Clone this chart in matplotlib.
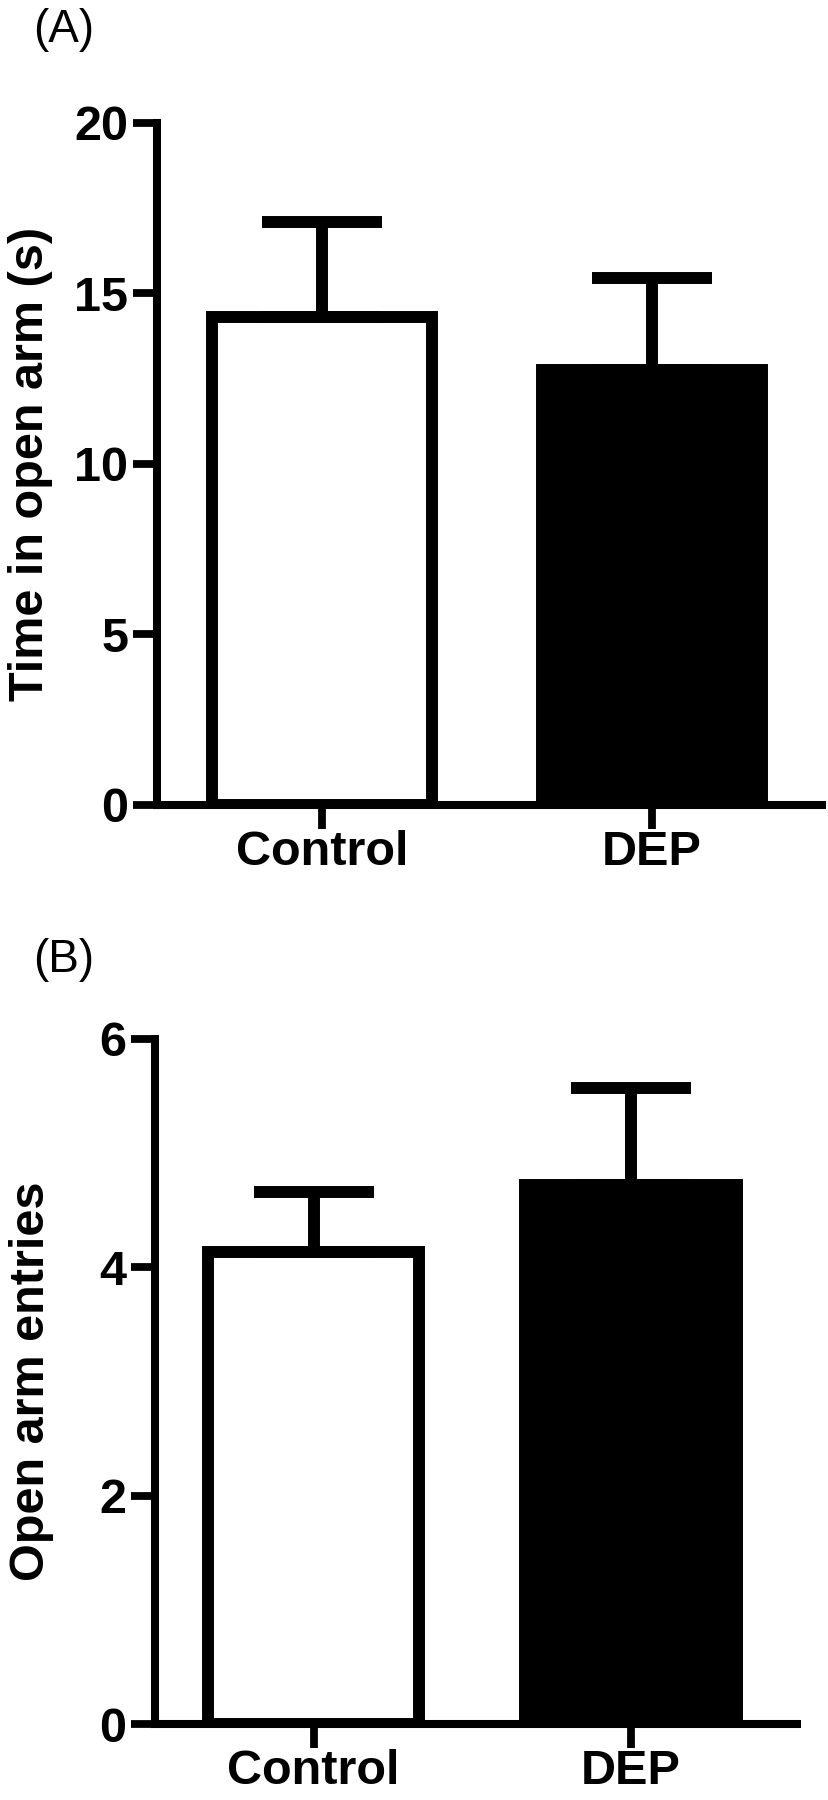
import numpy as np
import matplotlib
matplotlib.use("Agg")
import matplotlib.pyplot as plt

# data (mean and upper SEM)
groups = ["Control", "DEP"]
time_open = [14.3, 12.75]
time_sem = [2.8, 2.7]
entries_open = [4.13, 4.72]
entries_sem = [0.53, 0.85]

plt.rcParams['font.family'] = ['Liberation Sans', 'DejaVu Sans']

fig = plt.figure(figsize=(8.29, 18), dpi=100)
axA = fig.add_axes([0.1894, 0.5528, 0.8022, 0.3789])
axB = fig.add_axes([0.187, 0.0422, 0.7744, 0.3806])


def draw_panel(ax, vals, sem, ylabel, yticks, xlim):
    x = np.arange(len(groups))
    ax.bar(x, vals, width=0.667, color=['white', 'black'],
           edgecolor='black', linewidth=8.6)
    ax.errorbar(x, vals, yerr=[np.zeros(len(sem)), sem], fmt='none',
                ecolor='black', elinewidth=8.6, capsize=43, capthick=8.6)
    ax.set_xlim(*xlim)
    ax.set_ylim(yticks[0], yticks[-1])
    ax.set_yticks(yticks)
    ax.set_xticks(x)
    ax.set_xticklabels(groups)
    for s in ['top', 'right']:
        ax.spines[s].set_visible(False)
    for s in ['left', 'bottom']:
        ax.spines[s].set_linewidth(5.8)
    ax.tick_params(axis='both', width=5.6, length=17, labelsize=35)
    ax.tick_params(axis='y', pad=3.6)
    ax.tick_params(axis='x', pad=1)
    for lab in ax.get_xticklabels() + ax.get_yticklabels():
        lab.set_fontweight('bold')
    ax.set_ylabel(ylabel, fontsize=35, fontweight='bold')
    ax.yaxis.set_label_coords(-0.157, 0.5)


draw_panel(axA, time_open, time_sem, "Time in open arm (s)",
           [0, 5, 10, 15, 20], (-0.5, 1.515))
draw_panel(axB, entries_open, entries_sem, "Open arm entries",
           [0, 2, 4, 6], (-0.5, 1.524))

fig.text(0.04, 0.9768, "(A)", fontsize=33, va='baseline')
fig.text(0.04, 0.4602, "(B)", fontsize=33, va='baseline')

fig.savefig('out.png', dpi=100)
